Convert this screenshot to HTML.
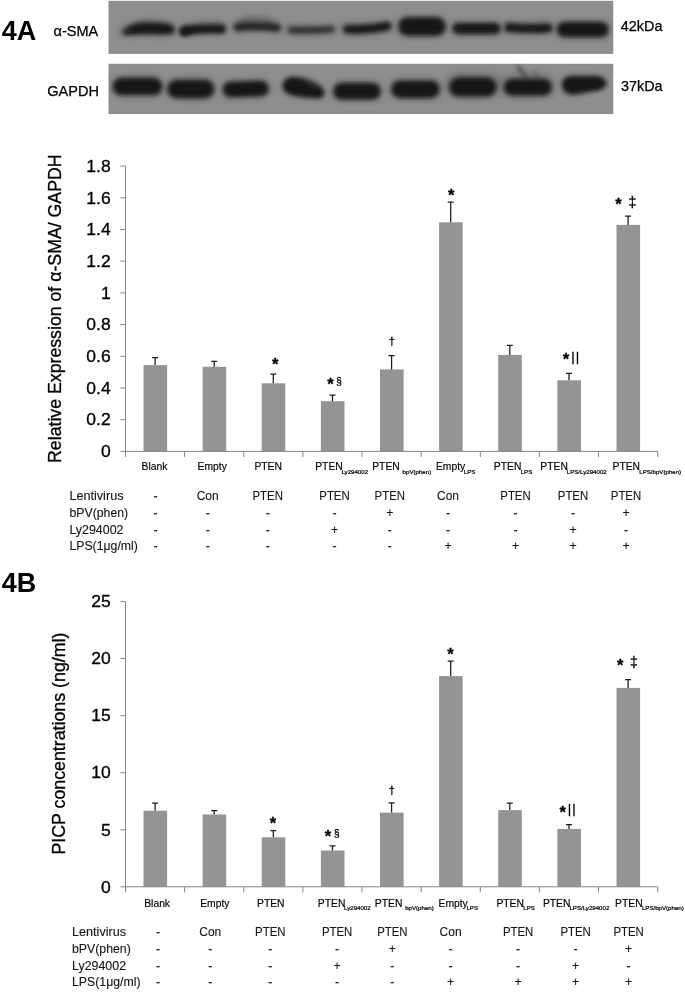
<!DOCTYPE html>
<html><head><meta charset="utf-8"><title>Figure 4</title>
<style>html,body{margin:0;padding:0;background:#fff;}body{width:685px;height:992px;overflow:hidden;}svg{display:block;}text{font-family:"Liberation Sans",sans-serif;fill:#000;}.tk,.yl{stroke:#000;stroke-width:0.3px;}.ct{stroke:#000;stroke-width:0.15px;}.sb{stroke:#000;stroke-width:0.22px;}.tb{fill:#161616;stroke:#161616;stroke-width:0.12px;}.mk{stroke:#000;stroke-width:0.3px;}.lb{stroke:#000;stroke-width:0.25px;}</style>
</head><body>
<svg width="685" height="992" viewBox="0 0 685 992">
<defs><filter id="b2" filterUnits="userSpaceOnUse" x="100" y="0" width="520" height="120"><feGaussianBlur stdDeviation="1.9"/></filter><filter id="b3" filterUnits="userSpaceOnUse" x="100" y="0" width="520" height="120"><feGaussianBlur stdDeviation="3"/></filter><filter id="b5" filterUnits="userSpaceOnUse" x="100" y="0" width="520" height="120"><feGaussianBlur stdDeviation="4.5"/></filter><clipPath id="cb"><rect x="108.3" y="0.6" width="505.2" height="53.3"/><rect x="108.3" y="63.5" width="505.2" height="50.8"/></clipPath></defs>
<rect x="0" y="0" width="685" height="992" fill="#fff"/>
<g id="blots" clip-path="url(#cb)">
<rect x="108.3" y="0.6" width="505.2" height="53.3" fill="#8e8e8e"/>
<rect x="108.3" y="63.5" width="505.2" height="50.8" fill="#8e8e8e"/>
<path d="M121 31.5C124 25.5 133 21.6 142 21C152 20.4 164 21 171 23.5C175.5 25.5 176 31.5 174 34C168 35.6 150 34.6 140 34.8C133 35 127 35.6 123.5 35C121.3 34.5 120.5 32.8 121 31.5Z" fill="#2a2a2a" filter="url(#b3)" opacity="0.6"/>
<path d="M125 31C128 26.5 136 24 144 23.6C154 23.2 165 23.6 171 25.6C174 26.8 174.6 31.5 173 33C167 34.4 152 33.4 142 33.6C135 33.8 130 34.4 127 34.2C125 34 124.4 32.4 125 31Z" fill="#121212" filter="url(#b2)" opacity="1"/>
<path d="M123.5 31.8L130 30" stroke="#333" stroke-width="4.5" stroke-linecap="round" fill="none" filter="url(#b2)" opacity="0.55"/>
<path d="M185 29.8Q203 25.6 221 28" stroke="#2a2a2a" stroke-width="10.5" stroke-linecap="round" fill="none" filter="url(#b3)" opacity="0.5"/>
<path d="M185 30.8Q204 28.2 221.5 29.3" stroke="#121212" stroke-width="8" stroke-linecap="round" fill="none" filter="url(#b2)" opacity="1"/>
<path d="M183.3 32L186 31.6" stroke="#121212" stroke-width="7" stroke-linecap="round" fill="none" filter="url(#b2)" opacity="1"/>
<path d="M241 23Q255 16.5 271 23" stroke="#3a3a3a" stroke-width="7" stroke-linecap="round" fill="none" filter="url(#b3)" opacity="0.45"/>
<path d="M237.5 27Q256 24.8 277 27.6" stroke="#2a2a2a" stroke-width="9" stroke-linecap="round" fill="none" filter="url(#b3)" opacity="0.5"/>
<path d="M237.5 27.2Q256 25.6 277 27.8" stroke="#1e1e1e" stroke-width="6.6" stroke-linecap="round" fill="none" filter="url(#b2)" opacity="0.92"/>
<path d="M291.0 30.0Q311.2 31.0 331.5 29.3" stroke="#2a2a2a" stroke-width="8" stroke-linecap="round" fill="none" filter="url(#b3)" opacity="0.55"/>
<path d="M291.0 30.0Q311.2 31.0 331.5 29.3" stroke="#242424" stroke-width="5" stroke-linecap="round" fill="none" filter="url(#b2)" opacity="0.85"/>
<path d="M407.5 26.6Q422.0 26.6 436.5 26.6" stroke="#2a2a2a" stroke-width="20" stroke-linecap="round" fill="none" filter="url(#b3)" opacity="0.55"/>
<path d="M407.5 26.6Q422.0 26.6 436.5 26.6" stroke="#121212" stroke-width="17" stroke-linecap="round" fill="none" filter="url(#b2)" opacity="1"/>
<path d="M457.8 28.6Q476.5 28.6 495.2 28.6" stroke="#2a2a2a" stroke-width="12.5" stroke-linecap="round" fill="none" filter="url(#b3)" opacity="0.55"/>
<path d="M457.8 28.6Q476.5 28.6 495.2 28.6" stroke="#121212" stroke-width="9.5" stroke-linecap="round" fill="none" filter="url(#b2)" opacity="1"/>
<path d="M508.8 27.5Q528.5 29.2 548.2 28.0" stroke="#2a2a2a" stroke-width="10.5" stroke-linecap="round" fill="none" filter="url(#b3)" opacity="0.55"/>
<path d="M508.8 27.5Q528.5 29.2 548.2 28.0" stroke="#121212" stroke-width="7.5" stroke-linecap="round" fill="none" filter="url(#b2)" opacity="1"/>
<path d="M564.2 29.5Q582.8 29.5 601.2 29.5" stroke="#2a2a2a" stroke-width="16.5" stroke-linecap="round" fill="none" filter="url(#b3)" opacity="0.55"/>
<path d="M564.2 29.5Q582.8 29.5 601.2 29.5" stroke="#121212" stroke-width="13.5" stroke-linecap="round" fill="none" filter="url(#b2)" opacity="1"/>
<path d="M347.5 29.2C357 29.6 368 29 376 28Q383 26.6 387 26.2" stroke="#2a2a2a" stroke-width="10.5" stroke-linecap="round" fill="none" filter="url(#b3)" opacity="0.5"/>
<path d="M347.5 29.2C357 29.6 368 29 376 28Q383 26.6 387 26.2" stroke="#121212" stroke-width="7.6" stroke-linecap="round" fill="none" filter="url(#b2)" opacity="1"/>
<path d="M455 84L492 84" stroke="#555" stroke-width="20" stroke-linecap="round" fill="none" filter="url(#b5)" opacity="0.35"/>
<path d="M510 84L546 84" stroke="#555" stroke-width="18" stroke-linecap="round" fill="none" filter="url(#b5)" opacity="0.3"/>
<path d="M121.5 86.6Q137.5 86.6 153.5 86.6" stroke="#2a2a2a" stroke-width="19" stroke-linecap="round" fill="none" filter="url(#b3)" opacity="0.55"/>
<path d="M121.5 86.6Q137.5 86.6 153.5 86.6" stroke="#121212" stroke-width="16" stroke-linecap="round" fill="none" filter="url(#b2)" opacity="1"/>
<path d="M176.5 89.0Q190.8 89.0 205.0 89.0" stroke="#2a2a2a" stroke-width="20" stroke-linecap="round" fill="none" filter="url(#b3)" opacity="0.55"/>
<path d="M176.5 89.0Q190.8 89.0 205.0 89.0" stroke="#121212" stroke-width="17" stroke-linecap="round" fill="none" filter="url(#b2)" opacity="1"/>
<path d="M230.5 89.5Q245.8 89.0 261.0 88.5" stroke="#2a2a2a" stroke-width="17" stroke-linecap="round" fill="none" filter="url(#b3)" opacity="0.55"/>
<path d="M230.5 89.5Q245.8 89.0 261.0 88.5" stroke="#121212" stroke-width="14" stroke-linecap="round" fill="none" filter="url(#b2)" opacity="1"/>
<path d="M341.5 91.2Q357.0 91.2 372.5 91.2" stroke="#2a2a2a" stroke-width="18" stroke-linecap="round" fill="none" filter="url(#b3)" opacity="0.55"/>
<path d="M341.5 91.2Q357.0 91.2 372.5 91.2" stroke="#121212" stroke-width="15" stroke-linecap="round" fill="none" filter="url(#b2)" opacity="1"/>
<path d="M400.0 89.2Q415.5 89.2 431.0 89.2" stroke="#2a2a2a" stroke-width="19" stroke-linecap="round" fill="none" filter="url(#b3)" opacity="0.55"/>
<path d="M400.0 89.2Q415.5 89.2 431.0 89.2" stroke="#121212" stroke-width="16" stroke-linecap="round" fill="none" filter="url(#b2)" opacity="1"/>
<path d="M458.8 87.0Q472.8 87.0 486.8 87.0" stroke="#2a2a2a" stroke-width="20.5" stroke-linecap="round" fill="none" filter="url(#b3)" opacity="0.55"/>
<path d="M458.8 87.0Q472.8 87.0 486.8 87.0" stroke="#121212" stroke-width="17.5" stroke-linecap="round" fill="none" filter="url(#b2)" opacity="1"/>
<path d="M512.0 87.2Q527.8 87.2 543.5 87.2" stroke="#2a2a2a" stroke-width="18" stroke-linecap="round" fill="none" filter="url(#b3)" opacity="0.55"/>
<path d="M512.0 87.2Q527.8 87.2 543.5 87.2" stroke="#121212" stroke-width="15" stroke-linecap="round" fill="none" filter="url(#b2)" opacity="1"/>
<path d="M283.2 85.5C283.6 80 288 77.6 293 77.6C300 77.8 308 79.5 314 82.5C319 85 322.6 88.5 323.6 92C324.6 96 321.5 98 317.5 97.8C310 97.6 300 96.8 292 94.8C286 93.2 283 90 283.2 85.5Z" fill="#2a2a2a" filter="url(#b3)" opacity="0.55"/>
<path d="M283.2 85.5C283.6 80 288 77.6 293 77.6C300 77.8 308 79.5 314 82.5C319 85 322.6 88.5 323.6 92C324.6 96 321.5 98 317.5 97.8C310 97.6 300 96.8 292 94.8C286 93.2 283 90 283.2 85.5Z" fill="#121212" filter="url(#b2)" opacity="1"/>
<path d="M562.5 85C562.5 79 566.5 76.4 572 76.4L596 76.6C602.5 77 605.8 80.5 605.8 84.2C605 88 600 89.6 594 90.6L575 94C567 94.6 562.5 91 562.5 85Z" fill="#2a2a2a" filter="url(#b3)" opacity="0.55"/>
<path d="M562.5 85C562.5 79 566.5 76.4 572 76.4L596 76.6C602.5 77 605.8 80.5 605.8 84.2C605 88 600 89.6 594 90.6L575 94C567 94.6 562.5 91 562.5 85Z" fill="#121212" filter="url(#b2)" opacity="1"/>
<path d="M518.5 67.5L527 79" stroke="#333" stroke-width="3.8" stroke-linecap="round" fill="none" filter="url(#b2)" opacity="0.7"/>
<path d="M533.5 71.5L538 79" stroke="#3a3a3a" stroke-width="3.2" stroke-linecap="round" fill="none" filter="url(#b2)" opacity="0.5"/>
<path d="M307 80.5L317 85.5" stroke="#8e8e8e" stroke-width="3" stroke-linecap="round" fill="none" filter="url(#b3)" opacity="0.45"/>
</g>
<text x="1.8" y="39.6" font-size="28" font-weight="bold" textLength="34.5" lengthAdjust="spacingAndGlyphs">4A</text>
<text class="lb" x="53.6" y="36.2" font-size="14.5">α-SMA</text>
<text class="lb" x="47.3" y="95.8" font-size="14.5">GAPDH</text>
<text class="lb" x="620.8" y="30.9" font-size="14.4">42kDa</text>
<text class="lb" x="621" y="90.8" font-size="14.4">37kDa</text>
<text x="1.8" y="592.1" font-size="27.6" font-weight="bold" textLength="34.5" lengthAdjust="spacingAndGlyphs">4B</text>
<g id="chartA">
<rect x="143.5" y="365.1" width="23.6" height="86.3" fill="#949494"/>
<path d="M155.1 365.1V357.5M152.1 357.5H158.1" stroke="#1c1c1c" stroke-width="1.25" fill="none"/>
<rect x="202.6" y="366.8" width="23.6" height="84.6" fill="#949494"/>
<path d="M214.2 366.8V361.4M211.2 361.4H217.2" stroke="#1c1c1c" stroke-width="1.25" fill="none"/>
<rect x="261.7" y="383.3" width="23.6" height="68.1" fill="#949494"/>
<path d="M273.3 383.3V374.0M270.3 374.0H276.3" stroke="#1c1c1c" stroke-width="1.25" fill="none"/>
<rect x="320.9" y="401.2" width="23.6" height="50.2" fill="#949494"/>
<path d="M332.5 401.2V395.0M329.5 395.0H335.5" stroke="#1c1c1c" stroke-width="1.25" fill="none"/>
<rect x="380.0" y="369.4" width="23.6" height="82.0" fill="#949494"/>
<path d="M391.6 369.4V355.6M388.6 355.6H394.6" stroke="#1c1c1c" stroke-width="1.25" fill="none"/>
<rect x="439.1" y="222.3" width="23.6" height="229.1" fill="#949494"/>
<path d="M450.7 222.3V202.2M447.7 202.2H453.7" stroke="#1c1c1c" stroke-width="1.25" fill="none"/>
<rect x="498.2" y="354.9" width="23.6" height="96.5" fill="#949494"/>
<path d="M509.8 354.9V345.4M506.8 345.4H512.8" stroke="#1c1c1c" stroke-width="1.25" fill="none"/>
<rect x="557.4" y="380.3" width="23.6" height="71.1" fill="#949494"/>
<path d="M569.0 380.3V373.4M566.0 373.4H572.0" stroke="#1c1c1c" stroke-width="1.25" fill="none"/>
<rect x="616.5" y="224.9" width="23.6" height="226.4" fill="#949494"/>
<path d="M628.1 224.9V216.1M625.1 216.1H631.1" stroke="#1c1c1c" stroke-width="1.25" fill="none"/>
<path d="M125.5 166.1V457.0M120.4 451.4H657.7M120.4 419.7H125.5M120.4 388.0H125.5M120.4 356.3H125.5M120.4 324.6H125.5M120.4 292.9H125.5M120.4 261.2H125.5M120.4 229.5H125.5M120.4 197.8H125.5M120.4 166.1H125.5M184.6 451.4V457.0M243.8 451.4V457.0M302.9 451.4V457.0M362.0 451.4V457.0M421.2 451.4V457.0M480.3 451.4V457.0M539.4 451.4V457.0M598.5 451.4V457.0M657.7 451.4V457.0" stroke="#868686" stroke-width="1" fill="none"/>
<text class="tk" transform="translate(110.7 457.1) scale(1.075 1)" font-size="16.3" text-anchor="end">0</text>
<text class="tk" transform="translate(110.7 425.4) scale(1.075 1)" font-size="16.3" text-anchor="end">0.2</text>
<text class="tk" transform="translate(110.7 393.7) scale(1.075 1)" font-size="16.3" text-anchor="end">0.4</text>
<text class="tk" transform="translate(110.7 362.0) scale(1.075 1)" font-size="16.3" text-anchor="end">0.6</text>
<text class="tk" transform="translate(110.7 330.3) scale(1.075 1)" font-size="16.3" text-anchor="end">0.8</text>
<text class="tk" transform="translate(110.7 298.6) scale(1.075 1)" font-size="16.3" text-anchor="end">1</text>
<text class="tk" transform="translate(110.7 266.9) scale(1.075 1)" font-size="16.3" text-anchor="end">1.2</text>
<text class="tk" transform="translate(110.7 235.2) scale(1.075 1)" font-size="16.3" text-anchor="end">1.4</text>
<text class="tk" transform="translate(110.7 203.5) scale(1.075 1)" font-size="16.3" text-anchor="end">1.6</text>
<text class="tk" transform="translate(110.7 171.8) scale(1.075 1)" font-size="16.3" text-anchor="end">1.8</text>
<text class="yl" transform="translate(60.8 308.7) rotate(-90)" font-size="17.9" text-anchor="middle" textLength="308.5" lengthAdjust="spacingAndGlyphs">Relative Expression of α-SMA/ GAPDH</text>
<text class="ct" transform="translate(141.6 470.2) scale(1.035 1)" font-size="10">Blank</text>
<text class="ct" transform="translate(197.6 470.2) scale(1.035 1)" font-size="10">Empty</text>
<text class="ct" transform="translate(254.4 470.2) scale(1.035 1)" font-size="10">PTEN</text>
<text class="ct" transform="translate(315.2 470.2) scale(1.035 1)" font-size="10">PTEN</text>
<text class="sb" transform="translate(341.4 473.7) scale(1.035 1)" font-size="5.92">Ly294002</text>
<text class="ct" transform="translate(372.2 470.2) scale(1.035 1)" font-size="10">PTEN</text>
<text class="sb" transform="translate(402.6 473.7) scale(1.035 1)" font-size="5.92">bpV(phen)</text>
<text class="ct" transform="translate(435.9 470.2) scale(1.035 1)" font-size="10">Empty</text>
<text class="sb" transform="translate(463.8 473.7) scale(1.035 1)" font-size="5.92">LPS</text>
<text class="ct" transform="translate(493.8 470.2) scale(1.035 1)" font-size="10">PTEN</text>
<text class="sb" transform="translate(520.7 473.7) scale(1.035 1)" font-size="5.92">LPS</text>
<text class="ct" transform="translate(540.3 470.2) scale(1.035 1)" font-size="10">PTEN</text>
<text class="sb" transform="translate(566.8 473.7) scale(1.035 1)" font-size="5.92">LPS/Ly294002</text>
<text class="ct" transform="translate(612.5 470.2) scale(1.035 1)" font-size="10">PTEN</text>
<text class="sb" transform="translate(639.3 473.7) scale(1.035 1)" font-size="5.92">LPS/bpV(phen)</text>
<text class="tb" x="69.4" y="500.2" font-size="12.3" textLength="54.1" lengthAdjust="spacingAndGlyphs">Lentivirus</text>
<text class="tb" x="155.5" y="500.2" font-size="12.3" text-anchor="middle">-</text>
<text class="tb" x="207.7" y="500.2" font-size="12.3" text-anchor="middle" textLength="22" lengthAdjust="spacingAndGlyphs">Con</text>
<text class="tb" x="267.7" y="500.2" font-size="12.3" text-anchor="middle" textLength="30.4" lengthAdjust="spacingAndGlyphs">PTEN</text>
<text class="tb" x="334.5" y="500.2" font-size="12.3" text-anchor="middle" textLength="30.4" lengthAdjust="spacingAndGlyphs">PTEN</text>
<text class="tb" x="389.8" y="500.2" font-size="12.3" text-anchor="middle" textLength="30.4" lengthAdjust="spacingAndGlyphs">PTEN</text>
<text class="tb" x="448.0" y="500.2" font-size="12.3" text-anchor="middle" textLength="22" lengthAdjust="spacingAndGlyphs">Con</text>
<text class="tb" x="515.5" y="500.2" font-size="12.3" text-anchor="middle" textLength="30.4" lengthAdjust="spacingAndGlyphs">PTEN</text>
<text class="tb" x="573.0" y="500.2" font-size="12.3" text-anchor="middle" textLength="30.4" lengthAdjust="spacingAndGlyphs">PTEN</text>
<text class="tb" x="626.0" y="500.2" font-size="12.3" text-anchor="middle" textLength="30.4" lengthAdjust="spacingAndGlyphs">PTEN</text>
<text class="tb" x="69.4" y="516.9" font-size="12.3" textLength="58.8" lengthAdjust="spacingAndGlyphs">bPV(phen)</text>
<text class="tb" x="155.5" y="516.9" font-size="12.3" text-anchor="middle">-</text>
<text class="tb" x="207.7" y="516.9" font-size="12.3" text-anchor="middle">-</text>
<text class="tb" x="267.7" y="516.9" font-size="12.3" text-anchor="middle">-</text>
<text class="tb" x="334.5" y="516.9" font-size="12.3" text-anchor="middle">-</text>
<text class="tb" x="389.8" y="516.9" font-size="12.3" text-anchor="middle">+</text>
<text class="tb" x="448.0" y="516.9" font-size="12.3" text-anchor="middle">-</text>
<text class="tb" x="515.5" y="516.9" font-size="12.3" text-anchor="middle">-</text>
<text class="tb" x="573.0" y="516.9" font-size="12.3" text-anchor="middle">-</text>
<text class="tb" x="626.0" y="516.9" font-size="12.3" text-anchor="middle">+</text>
<text class="tb" x="69.4" y="533.5" font-size="12.3" textLength="54.1" lengthAdjust="spacingAndGlyphs">Ly294002</text>
<text class="tb" x="155.5" y="533.5" font-size="12.3" text-anchor="middle">-</text>
<text class="tb" x="207.7" y="533.5" font-size="12.3" text-anchor="middle">-</text>
<text class="tb" x="267.7" y="533.5" font-size="12.3" text-anchor="middle">-</text>
<text class="tb" x="334.5" y="533.5" font-size="12.3" text-anchor="middle">+</text>
<text class="tb" x="389.8" y="533.5" font-size="12.3" text-anchor="middle">-</text>
<text class="tb" x="448.0" y="533.5" font-size="12.3" text-anchor="middle">-</text>
<text class="tb" x="515.5" y="533.5" font-size="12.3" text-anchor="middle">-</text>
<text class="tb" x="573.0" y="533.5" font-size="12.3" text-anchor="middle">+</text>
<text class="tb" x="626.0" y="533.5" font-size="12.3" text-anchor="middle">-</text>
<text class="tb" x="69.4" y="550.2" font-size="12.3" textLength="68.5" lengthAdjust="spacingAndGlyphs">LPS(1μg/ml)</text>
<text class="tb" x="155.5" y="550.2" font-size="12.3" text-anchor="middle">-</text>
<text class="tb" x="207.7" y="550.2" font-size="12.3" text-anchor="middle">-</text>
<text class="tb" x="267.7" y="550.2" font-size="12.3" text-anchor="middle">-</text>
<text class="tb" x="334.5" y="550.2" font-size="12.3" text-anchor="middle">-</text>
<text class="tb" x="389.8" y="550.2" font-size="12.3" text-anchor="middle">-</text>
<text class="tb" x="448.0" y="550.2" font-size="12.3" text-anchor="middle">+</text>
<text class="tb" x="515.5" y="550.2" font-size="12.3" text-anchor="middle">+</text>
<text class="tb" x="573.0" y="550.2" font-size="12.3" text-anchor="middle">+</text>
<text class="tb" x="626.0" y="550.2" font-size="12.3" text-anchor="middle">+</text>
<text class="mk" x="275.3" y="370.2" font-size="16.5" text-anchor="middle" font-weight="bold">*</text>
<text class="mk" x="330.4" y="390.3" font-size="16.5" text-anchor="middle" font-weight="bold">*</text>
<text class="mk" x="339" y="385" font-size="10" text-anchor="middle">§</text>
<text class="mk" x="391.7" y="344.6" font-size="11" text-anchor="middle">†</text>
<text class="mk" x="451.1" y="201.2" font-size="16.5" text-anchor="middle" font-weight="bold">*</text>
<text class="mk" x="565.9" y="365.2" font-size="16.5" text-anchor="middle" font-weight="bold">*</text>
<text class="mk" x="575.8" y="360.6" font-size="13.4" text-anchor="middle" letter-spacing="1">||</text>
<text class="mk" x="618.5" y="210" font-size="16.5" text-anchor="middle" font-weight="bold">*</text>
<text class="mk" x="632.4" y="206.5" font-size="14" text-anchor="middle">‡</text>
</g>
<g id="chartB">
<rect x="143.5" y="810.7" width="23.6" height="76.1" fill="#949494"/>
<path d="M155.1 810.7V803.1M152.1 803.1H158.1" stroke="#1c1c1c" stroke-width="1.25" fill="none"/>
<rect x="202.6" y="814.5" width="23.6" height="72.3" fill="#949494"/>
<path d="M214.2 814.5V810.7M211.2 810.7H217.2" stroke="#1c1c1c" stroke-width="1.25" fill="none"/>
<rect x="261.7" y="837.3" width="23.6" height="49.5" fill="#949494"/>
<path d="M273.3 837.3V830.7M270.3 830.7H276.3" stroke="#1c1c1c" stroke-width="1.25" fill="none"/>
<rect x="320.9" y="850.5" width="23.6" height="36.3" fill="#949494"/>
<path d="M332.5 850.5V845.9M329.5 845.9H335.5" stroke="#1c1c1c" stroke-width="1.25" fill="none"/>
<rect x="380.0" y="812.6" width="23.6" height="74.2" fill="#949494"/>
<path d="M391.6 812.6V802.8M388.6 802.8H394.6" stroke="#1c1c1c" stroke-width="1.25" fill="none"/>
<rect x="439.1" y="676.1" width="23.6" height="210.7" fill="#949494"/>
<path d="M450.7 676.1V661.2M447.7 661.2H453.7" stroke="#1c1c1c" stroke-width="1.25" fill="none"/>
<rect x="498.2" y="810.1" width="23.6" height="76.7" fill="#949494"/>
<path d="M509.8 810.1V803.1M506.8 803.1H512.8" stroke="#1c1c1c" stroke-width="1.25" fill="none"/>
<rect x="557.4" y="828.9" width="23.6" height="57.9" fill="#949494"/>
<path d="M569.0 828.9V824.5M566.0 824.5H572.0" stroke="#1c1c1c" stroke-width="1.25" fill="none"/>
<rect x="616.5" y="687.9" width="23.6" height="198.9" fill="#949494"/>
<path d="M628.1 687.9V679.5M625.1 679.5H631.1" stroke="#1c1c1c" stroke-width="1.25" fill="none"/>
<path d="M125.5 601.6V892.4M120.4 886.8H657.7M120.4 829.8H125.5M120.4 772.7H125.5M120.4 715.7H125.5M120.4 658.6H125.5M120.4 601.6H125.5M184.6 886.8V892.4M243.8 886.8V892.4M302.9 886.8V892.4M362.0 886.8V892.4M421.2 886.8V892.4M480.3 886.8V892.4M539.4 886.8V892.4M598.5 886.8V892.4M657.7 886.8V892.4" stroke="#868686" stroke-width="1" fill="none"/>
<text class="tk" transform="translate(110.7 892.5) scale(1.075 1)" font-size="16.3" text-anchor="end">0</text>
<text class="tk" transform="translate(110.7 835.5) scale(1.075 1)" font-size="16.3" text-anchor="end">5</text>
<text class="tk" transform="translate(110.7 778.4) scale(1.075 1)" font-size="16.3" text-anchor="end">10</text>
<text class="tk" transform="translate(110.7 721.4) scale(1.075 1)" font-size="16.3" text-anchor="end">15</text>
<text class="tk" transform="translate(110.7 664.3) scale(1.075 1)" font-size="16.3" text-anchor="end">20</text>
<text class="tk" transform="translate(110.7 607.3) scale(1.075 1)" font-size="16.3" text-anchor="end">25</text>
<text class="yl" transform="translate(65 743.6) rotate(-90)" font-size="17.9" text-anchor="middle" textLength="222" lengthAdjust="spacingAndGlyphs">PICP concentrations (ng/ml)</text>
<text class="ct" transform="translate(144.2 906.6) scale(1.035 1)" font-size="10">Blank</text>
<text class="ct" transform="translate(200.2 906.6) scale(1.035 1)" font-size="10">Empty</text>
<text class="ct" transform="translate(257.0 906.6) scale(1.035 1)" font-size="10">PTEN</text>
<text class="ct" transform="translate(317.8 906.6) scale(1.035 1)" font-size="10">PTEN</text>
<text class="sb" transform="translate(344.0 910.1) scale(1.035 1)" font-size="5.92">Ly294002</text>
<text class="ct" transform="translate(374.8 906.6) scale(1.035 1)" font-size="10">PTEN</text>
<text class="sb" transform="translate(405.2 910.1) scale(1.035 1)" font-size="5.92">bpV(phen)</text>
<text class="ct" transform="translate(438.5 906.6) scale(1.035 1)" font-size="10">Empty</text>
<text class="sb" transform="translate(466.4 910.1) scale(1.035 1)" font-size="5.92">LPS</text>
<text class="ct" transform="translate(496.4 906.6) scale(1.035 1)" font-size="10">PTEN</text>
<text class="sb" transform="translate(523.3 910.1) scale(1.035 1)" font-size="5.92">LPS</text>
<text class="ct" transform="translate(542.9 906.6) scale(1.035 1)" font-size="10">PTEN</text>
<text class="sb" transform="translate(569.4 910.1) scale(1.035 1)" font-size="5.92">LPS/Ly294002</text>
<text class="ct" transform="translate(615.1 906.6) scale(1.035 1)" font-size="10">PTEN</text>
<text class="sb" transform="translate(641.9 910.1) scale(1.035 1)" font-size="5.92">LPS/bpV(phen)</text>
<text class="tb" x="72.0" y="936.2" font-size="12.3" textLength="54.1" lengthAdjust="spacingAndGlyphs">Lentivirus</text>
<text class="tb" x="158.1" y="936.2" font-size="12.3" text-anchor="middle">-</text>
<text class="tb" x="210.3" y="936.2" font-size="12.3" text-anchor="middle" textLength="22" lengthAdjust="spacingAndGlyphs">Con</text>
<text class="tb" x="270.3" y="936.2" font-size="12.3" text-anchor="middle" textLength="30.4" lengthAdjust="spacingAndGlyphs">PTEN</text>
<text class="tb" x="337.1" y="936.2" font-size="12.3" text-anchor="middle" textLength="30.4" lengthAdjust="spacingAndGlyphs">PTEN</text>
<text class="tb" x="392.4" y="936.2" font-size="12.3" text-anchor="middle" textLength="30.4" lengthAdjust="spacingAndGlyphs">PTEN</text>
<text class="tb" x="450.6" y="936.2" font-size="12.3" text-anchor="middle" textLength="22" lengthAdjust="spacingAndGlyphs">Con</text>
<text class="tb" x="518.1" y="936.2" font-size="12.3" text-anchor="middle" textLength="30.4" lengthAdjust="spacingAndGlyphs">PTEN</text>
<text class="tb" x="575.6" y="936.2" font-size="12.3" text-anchor="middle" textLength="30.4" lengthAdjust="spacingAndGlyphs">PTEN</text>
<text class="tb" x="628.6" y="936.2" font-size="12.3" text-anchor="middle" textLength="30.4" lengthAdjust="spacingAndGlyphs">PTEN</text>
<text class="tb" x="72.0" y="952.9" font-size="12.3" textLength="58.8" lengthAdjust="spacingAndGlyphs">bPV(phen)</text>
<text class="tb" x="158.1" y="952.9" font-size="12.3" text-anchor="middle">-</text>
<text class="tb" x="210.3" y="952.9" font-size="12.3" text-anchor="middle">-</text>
<text class="tb" x="270.3" y="952.9" font-size="12.3" text-anchor="middle">-</text>
<text class="tb" x="337.1" y="952.9" font-size="12.3" text-anchor="middle">-</text>
<text class="tb" x="392.4" y="952.9" font-size="12.3" text-anchor="middle">+</text>
<text class="tb" x="450.6" y="952.9" font-size="12.3" text-anchor="middle">-</text>
<text class="tb" x="518.1" y="952.9" font-size="12.3" text-anchor="middle">-</text>
<text class="tb" x="575.6" y="952.9" font-size="12.3" text-anchor="middle">-</text>
<text class="tb" x="628.6" y="952.9" font-size="12.3" text-anchor="middle">+</text>
<text class="tb" x="72.0" y="969.5" font-size="12.3" textLength="54.1" lengthAdjust="spacingAndGlyphs">Ly294002</text>
<text class="tb" x="158.1" y="969.5" font-size="12.3" text-anchor="middle">-</text>
<text class="tb" x="210.3" y="969.5" font-size="12.3" text-anchor="middle">-</text>
<text class="tb" x="270.3" y="969.5" font-size="12.3" text-anchor="middle">-</text>
<text class="tb" x="337.1" y="969.5" font-size="12.3" text-anchor="middle">+</text>
<text class="tb" x="392.4" y="969.5" font-size="12.3" text-anchor="middle">-</text>
<text class="tb" x="450.6" y="969.5" font-size="12.3" text-anchor="middle">-</text>
<text class="tb" x="518.1" y="969.5" font-size="12.3" text-anchor="middle">-</text>
<text class="tb" x="575.6" y="969.5" font-size="12.3" text-anchor="middle">+</text>
<text class="tb" x="628.6" y="969.5" font-size="12.3" text-anchor="middle">-</text>
<text class="tb" x="72.0" y="986.2" font-size="12.3" textLength="68.5" lengthAdjust="spacingAndGlyphs">LPS(1μg/ml)</text>
<text class="tb" x="158.1" y="986.2" font-size="12.3" text-anchor="middle">-</text>
<text class="tb" x="210.3" y="986.2" font-size="12.3" text-anchor="middle">-</text>
<text class="tb" x="270.3" y="986.2" font-size="12.3" text-anchor="middle">-</text>
<text class="tb" x="337.1" y="986.2" font-size="12.3" text-anchor="middle">-</text>
<text class="tb" x="392.4" y="986.2" font-size="12.3" text-anchor="middle">-</text>
<text class="tb" x="450.6" y="986.2" font-size="12.3" text-anchor="middle">+</text>
<text class="tb" x="518.1" y="986.2" font-size="12.3" text-anchor="middle">+</text>
<text class="tb" x="575.6" y="986.2" font-size="12.3" text-anchor="middle">+</text>
<text class="tb" x="628.6" y="986.2" font-size="12.3" text-anchor="middle">+</text>
<text class="mk" x="273" y="828.8" font-size="16.5" text-anchor="middle" font-weight="bold">*</text>
<text class="mk" x="328" y="842.4" font-size="16.5" text-anchor="middle" font-weight="bold">*</text>
<text class="mk" x="336.7" y="837.3" font-size="10" text-anchor="middle">§</text>
<text class="mk" x="391.7" y="794.3" font-size="11" text-anchor="middle">†</text>
<text class="mk" x="450.4" y="660" font-size="16.5" text-anchor="middle" font-weight="bold">*</text>
<text class="mk" x="562.8" y="818.3" font-size="16.5" text-anchor="middle" font-weight="bold">*</text>
<text class="mk" x="572.2" y="813.2" font-size="13.4" text-anchor="middle" letter-spacing="1">||</text>
<text class="mk" x="620.3" y="670.8" font-size="16.5" text-anchor="middle" font-weight="bold">*</text>
<text class="mk" x="634" y="667.2" font-size="14" text-anchor="middle">‡</text>
</g>
</svg></body></html>
